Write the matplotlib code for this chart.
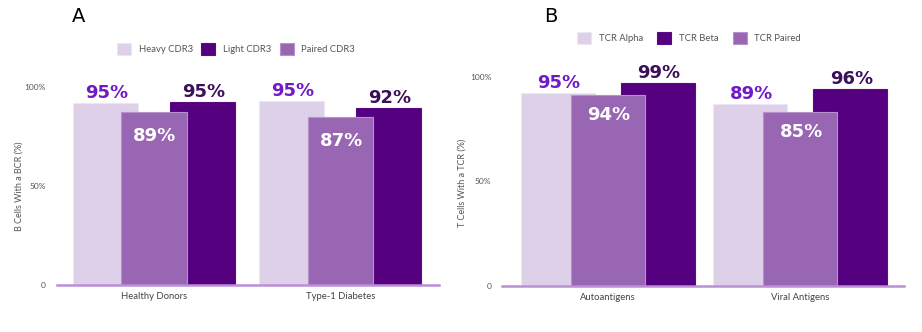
import numpy as np
import matplotlib.pyplot as plt

# panel A - B cells
groups_a = ["Healthy Donors", "Type-1 Diabetes"]
series_a = ["Heavy CDR3", "Light CDR3", "Paired CDR3"]
heights_a = {
    "Heavy CDR3": [91.8, 92.8],
    "Light CDR3": [92.3, 89.3],
    "Paired CDR3": [87.0, 84.8],
}
labels_a = {
    "Heavy CDR3": ["95%", "95%"],
    "Light CDR3": ["95%", "92%"],
    "Paired CDR3": ["89%", "87%"],
}

# panel B - T cells
groups_b = ["Autoantigens", "Viral Antigens"]
series_b = ["TCR Alpha", "TCR Beta", "TCR Paired"]
heights_b = {
    "TCR Alpha": [92.1, 86.8],
    "TCR Beta": [96.8, 94.0],
    "TCR Paired": [91.4, 83.3],
}
labels_b = {
    "TCR Alpha": ["95%", "89%"],
    "TCR Beta": ["99%", "96%"],
    "TCR Paired": ["94%", "85%"],
}

yticks = [0, 50, 100]
ytick_labels = ["0", "50%", "100%"]

bar_colors = ["#ddd0e8", "#55007f", "#9966b4"]
edge_colors = ["#efe6f5", "#5a0a86", "#b592cb"]
label_colors = ["#7019c7", "#3b0f5a", "#ffffff"]
offsets = [-0.26, 0.26, 0.0]
axis_color = "#b98fd6"
text_gray = "#555555"

plt.rcParams['font.family'] = ['Lato', 'DejaVu Sans']

fig = plt.figure(figsize=(9.22, 3.32), dpi=100)
W, H = 922.0, 332.0


def draw_panel(rect, groups, series, heights, labels, width, ylabel, xlim, letter, letter_xy,
               leg_xy, leg_colspace, inside_px):
    ax = fig.add_axes(rect)
    x = np.arange(len(groups))
    # back to front: first, second, then the overlapping middle one
    for i in [0, 1, 2]:
        name = series[i]
        ax.bar(x + offsets[i], heights[name], width, color=bar_colors[i],
               edgecolor=edge_colors[i], linewidth=0.8, label=name, zorder=2 + i)
    for i in [0, 1, 2]:
        name = series[i]
        for j, h in enumerate(heights[name]):
            if i == 2:
                ax.annotate(labels[name][j], (x[j] + offsets[i], h), xytext=(1, -inside_px),
                            textcoords="offset pixels", ha="center", va="center",
                            fontsize=13, fontweight="bold", color=label_colors[i],
                            family="DejaVu Sans", zorder=10)
            else:
                ax.annotate(labels[name][j], (x[j] + offsets[i], h), xytext=(1, 1),
                            textcoords="offset pixels", ha="center", va="bottom",
                            fontsize=13, fontweight="bold", color=label_colors[i],
                            family="DejaVu Sans", zorder=10)
    ax.set_xlim(*xlim)
    ax.set_ylim(0, 110)
    ax.set_yticks(yticks)
    ax.set_yticklabels(ytick_labels, fontsize=6, color=text_gray)
    ax.set_xticks(x)
    ax.set_xticklabels(groups, fontsize=6.8, color="#444444")
    ax.tick_params(length=0, pad=5)
    ax.tick_params(axis="y", pad=8)
    for s in ["top", "right", "left"]:
        ax.spines[s].set_visible(False)
    ax.spines["bottom"].set_color(axis_color)
    ax.spines["bottom"].set_linewidth(1.8)
    ax.spines["bottom"].set_zorder(20)
    ax.set_ylabel(ylabel, fontsize=6.5, color=text_gray)
    ax.yaxis.set_label_coords(-0.088, 0.45)
    fig.text(letter_xy[0] / W, 1 - letter_xy[1] / H, letter, fontsize=14, ha="center", va="center",
             family="DejaVu Sans")
    leg = ax.legend(loc="center", bbox_to_anchor=(leg_xy[0] / W, 1 - leg_xy[1] / H),
                    bbox_transform=fig.transFigure, ncol=3, frameon=False, fontsize=6.8,
                    handlelength=1.5, handleheight=1.5, columnspacing=leg_colspace,
                    handletextpad=0.8)
    for t in leg.get_texts():
        t.set_color(text_gray)
    return ax


# axis positions in pixels
a_left, a_right, a_base, a_per = 57, 439, 285, 1.985
b_left, b_right, b_base, b_per = 502.3, 904.3, 286, 2.093

rect_a = [a_left / W, (H - a_base) / H, (a_right - a_left) / W, 110 * a_per / H]
rect_b = [b_left / W, (H - b_base) / H, (b_right - b_left) / W, 110 * b_per / H]

draw_panel(rect_a, groups_a, series_a, heights_a, labels_a, 0.35,
           "B Cells With a BCR (%)", (-0.52, 1.53), "A", (79, 17), (236, 49), 0.9, 24)
draw_panel(rect_b, groups_b, series_b, heights_b, labels_b, 0.385,
           "T Cells With a TCR (%)", (-0.55, 1.54), "B", (551, 17), (689, 38), 1.5, 20)

fig.savefig("out.png", dpi=100)
